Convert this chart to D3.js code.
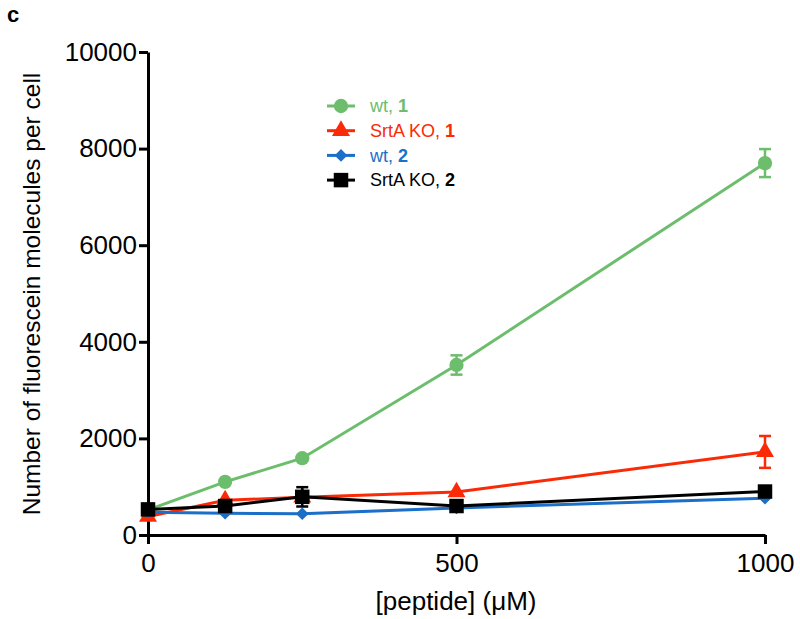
<!DOCTYPE html>
<html>
<head>
<meta charset="utf-8">
<script src="https://cdn.jsdelivr.net/npm/d3@7"></script>
<style>
  body { margin: 0; background: #fff; }
  text { font-family: "Liberation Sans", Arial, sans-serif; }
</style>
</head>
<body>
<div id="chart"></div>
<script>
var concentrations = [0, 125, 250, 500, 1000];
var xTicks = [0, 500, 1000];
var yTicks = [0, 2000, 4000, 6000, 8000, 10000];

var wt1 = [520, 1100, 1590, 3520, 7700];
var wt1Err = [0, 0, 0, 200, 290];
var ko1 = [380, 720, 780, 890, 1720];
var ko1Err = [0, 0, 0, 0, 330];
var wt2 = [470, 450, 440, 560, 760];
var wt2Err = [0, 0, 0, 0, 0];
var ko2 = [530, 600, 790, 600, 900];
var ko2Err = [0, 0, 200, 0, 0];

var series = [
  { label: "wt, ", num: "1", values: wt1, err: wt1Err, color: "#6cbd6c", shape: "circle" },
  { label: "SrtA KO, ", num: "1", values: ko1, err: ko1Err, color: "#fa2a07", shape: "triangle" },
  { label: "wt, ", num: "2", values: wt2, err: wt2Err, color: "#1b6fc8", shape: "diamond" },
  { label: "SrtA KO, ", num: "2", values: ko2, err: ko2Err, color: "#000000", shape: "square" }
];

var width = 800, height = 619;

var svg = d3.select("#chart").append("svg")
  .attr("width", width)
  .attr("height", height);

var x = d3.scaleLinear().domain([0, 1000]).range([148, 765]);
var y = d3.scaleLinear().domain([0, 10000]).range([535, 52]);

var symbols = {
  circle: d3.symbol().type(d3.symbolCircle).size(160),
  triangle: d3.symbol().type(d3.symbolTriangle).size(140),
  diamond: d3.symbol().type(d3.symbolSquare).size(80),
  square: d3.symbol().type(d3.symbolSquare).size(210)
};
var rot = function (d) { return d === "diamond" ? " rotate(45)" : ""; };

/* axes */
var xAxis = d3.axisBottom(x).tickValues(xTicks).tickSize(9).tickSizeOuter(0).tickFormat(d3.format("d"));
var yAxis = d3.axisLeft(y).tickValues(yTicks).tickSize(9).tickSizeOuter(0).tickFormat(d3.format("d"));

var gx = svg.append("g")
  .attr("transform", "translate(0," + y(0) + ")")
  .call(xAxis);
var gy = svg.append("g")
  .attr("transform", "translate(" + x(0) + ",0)")
  .call(yAxis);

[gx, gy].forEach(function (g) {
  g.select(".domain").attr("stroke-width", 3).attr("stroke", "#000");
  g.selectAll(".tick line").attr("stroke-width", 3).attr("stroke", "#000");
  g.selectAll(".tick text").attr("fill", "#000").attr("font-size", 26)
    .style("font-family", '"Liberation Sans", Arial, sans-serif');
});
gx.selectAll(".tick text").attr("dy", "0.95em");
gy.selectAll(".tick text").attr("x", -11);

/* lines, error bars, markers */
var line = d3.line()
  .x(function (d, i) { return x(concentrations[i]); })
  .y(function (d) { return y(d); });

var groups = svg.append("g").selectAll("g")
  .data(series).enter()
  .append("g");

groups.append("path")
  .attr("d", function (d) { return line(d.values); })
  .attr("fill", "none")
  .attr("stroke", function (d) { return d.color; })
  .attr("stroke-width", 3);

groups.each(function (s) {
  var g = d3.select(this);
  s.values.forEach(function (v, i) {
    if (!s.err[i]) return;
    var cx = x(concentrations[i]);
    var eb = g.append("g").attr("stroke", s.color).attr("stroke-width", 2.5);
    eb.append("line").attr("x1", cx).attr("x2", cx).attr("y1", y(v + s.err[i])).attr("y2", y(v - s.err[i]));
    eb.append("line").attr("x1", cx - 6).attr("x2", cx + 6).attr("y1", y(v + s.err[i])).attr("y2", y(v + s.err[i]));
    eb.append("line").attr("x1", cx - 6).attr("x2", cx + 6).attr("y1", y(v - s.err[i])).attr("y2", y(v - s.err[i]));
  });
});

groups.selectAll(".marker")
  .data(function (d) { return d.values.map(function (v, i) { return { v: v, c: concentrations[i], s: d }; }); })
  .enter().append("path")
  .attr("class", "marker")
  .attr("d", function (d) { return symbols[d.s.shape](); })
  .attr("transform", function (d) { return "translate(" + x(d.c) + "," + y(d.v) + ")" + rot(d.s.shape); })
  .attr("fill", function (d) { return d.s.color; });

/* legend */
var legend = svg.append("g").attr("transform", "translate(327,106)");
var items = legend.selectAll("g")
  .data(series).enter()
  .append("g")
  .attr("transform", function (d, i) { return "translate(0," + (i * 24.7) + ")"; });

items.append("line")
  .attr("x1", 0).attr("x2", 28)
  .attr("stroke", function (d) { return d.color; })
  .attr("stroke-width", 3);
items.append("path")
  .attr("d", function (d) { return symbols[d.shape](); })
  .attr("transform", function (d) { return "translate(14,0)" + rot(d.shape); })
  .attr("fill", function (d) { return d.color; });
var lt = items.append("text")
  .attr("x", 43)
  .attr("dy", "0.35em")
  .attr("font-size", 18)
  .attr("fill", function (d) { return d.color; });
lt.append("tspan").text(function (d) { return d.label; });
lt.append("tspan").attr("font-weight", "bold").text(function (d) { return d.num; });

/* labels */
svg.append("text")
  .attr("x", 456).attr("y", 610)
  .attr("text-anchor", "middle")
  .attr("font-size", 26)
  .text("[peptide] (\u03bcM)");

svg.append("text")
  .attr("transform", "translate(40,294) rotate(-90)")
  .attr("text-anchor", "middle")
  .attr("font-size", 24.5)
  .text("Number of fluorescein molecules per cell");

svg.append("text")
  .attr("x", 7).attr("y", 22)
  .attr("font-size", 22)
  .attr("font-weight", "bold")
  .text("c");
</script>
</body>
</html>
